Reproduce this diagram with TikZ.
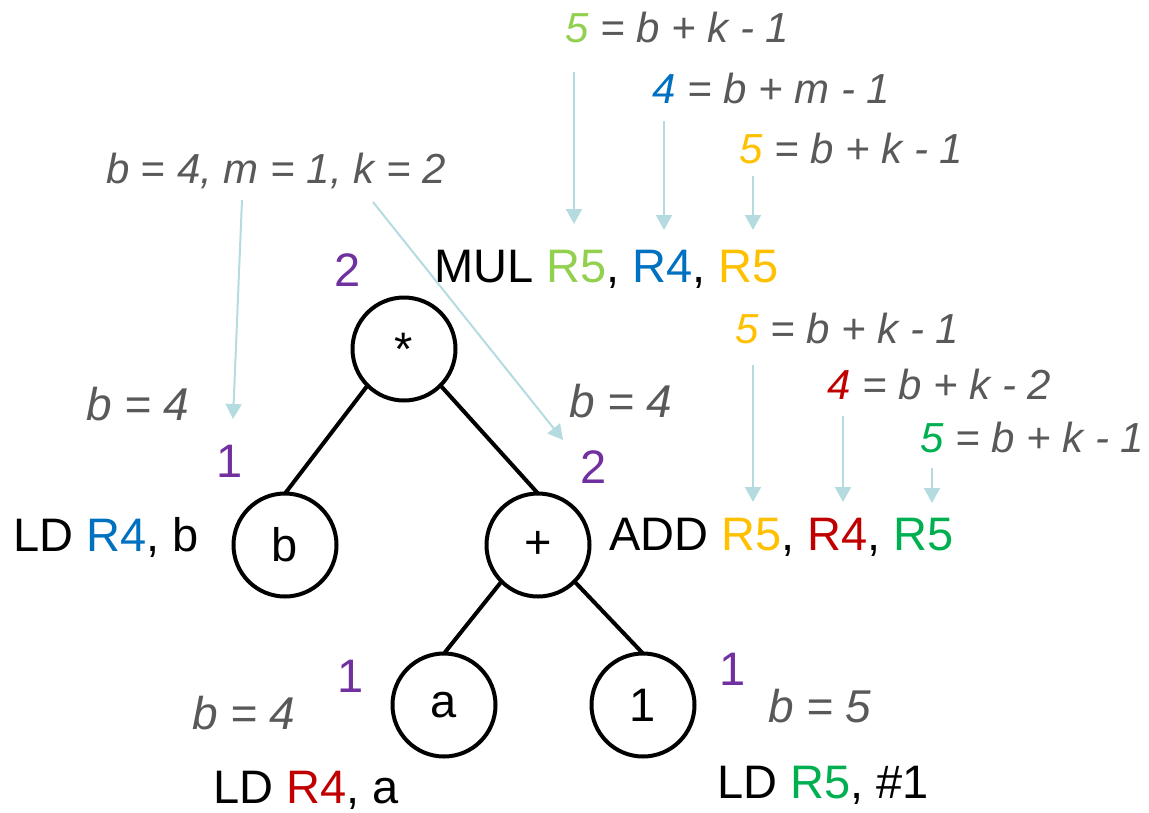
\documentclass[tikz,border=0pt]{standalone}
\usepackage{fontspec}
\setmainfont{Liberation Sans}
\usetikzlibrary{arrows.meta}
\definecolor{textgray}{RGB}{89,89,89}
\definecolor{hintblue}{RGB}{180,220,224}
\definecolor{needpurple}{RGB}{112,48,160}
\definecolor{regltgreen}{RGB}{146,208,80}
\definecolor{regblue}{RGB}{0,112,192}
\definecolor{regyellow}{RGB}{255,192,0}
\definecolor{regred}{RGB}{192,0,0}
\definecolor{reggreen}{RGB}{0,176,80}
\begin{document}
\begin{tikzpicture}[x=1pt,y=-1pt,
  every node/.style={inner sep=0pt,outer sep=0pt},
  code/.style={anchor=base west,font=\fontsize{47}{56}\selectfont},
  formula/.style={anchor=base west,text=textgray,font=\fontsize{42}{50}\selectfont\itshape},
  basevalue/.style={formula,font=\fontsize{46}{55}\selectfont\itshape},
  need/.style={anchor=base west,text=needpurple,font=\fontsize{47}{56}\selectfont},
  opnode/.style={circle,draw,line width=4pt,minimum size=103pt,font=\fontsize{47}{56}\selectfont},
  hint/.style={draw=hintblue,line width=2pt,-{Triangle[width=16pt,length=15pt]}},
  edge/.style={line width=4pt}]
\useasboundingbox (0,0) rectangle (1149,812);
% Expression tree
\node[opnode] (mul) at (404,349) {*};
\node[opnode] (leafb) at (285,545) {b};
\node[opnode] (add) at (538,545) {+};
\node[opnode] (leafa) at (444,705) {a};
\node[opnode] (leafone) at (643,705) {1};
\draw[edge] (mul.south west) -- (leafb.north);
\draw[edge] (mul.south east) -- (add.north);
\draw[edge] (add.south west) -- (leafa.north);
\draw[edge] (add.south east) -- (leafone.north);
% Register need of each node
\node[need] (needmul) at (334,286) {2};
\node[need] (needb) at (216,477) {1};
\node[need] (needadd) at (580,483) {2};
\node[need] (needa) at (337,692) {1};
\node[need] (needone) at (719,685) {1};
% Base register values
\node[formula] (rootargs) at (106,183) {b = 4, m = 1, k = 2};
\node[basevalue] (baseb) at (86,420) {b = 4};
\node[basevalue] (baseadd) at (569,417) {b = 4};
\node[basevalue] (basea) at (192,729) {b = 4};
\node[basevalue] (baseone) at (768,722) {b = 5};
% Generated code
\node[code] (codemul) at (434,282) {MUL \textcolor{regltgreen}{R5}, \textcolor{regblue}{R4}, \textcolor{regyellow}{R5}};
\node[code] (codeadd) at (609,550) {ADD \textcolor{regyellow}{R5}, \textcolor{regred}{R4}, \textcolor{reggreen}{R5}};
\node[code] (codeb) at (13,551) {LD \textcolor{regblue}{R4}, b};
\node[code] (codea) at (213,803) {LD \textcolor{regred}{R4}, a};
\node[code] (codeone) at (717,798) {LD \textcolor{reggreen}{R5}, \#1};
% Register formulas
\node[formula] (mulres) at (565,42) {\textcolor{regltgreen}{5} = b + k - 1};
\node[formula] (mulleft) at (652,103) {\textcolor{regblue}{4} = b + m - 1};
\node[formula] (mulright) at (739,163) {\textcolor{regyellow}{5} = b + k - 1};
\node[formula] (addres) at (735,343) {\textcolor{regyellow}{5} = b + k - 1};
\node[formula] (addleft) at (827,399) {\textcolor{regred}{4} = b + k - 2};
\node[formula] (addright) at (920,452) {\textcolor{reggreen}{5} = b + k - 1};
% Arrow ends
\coordinate (mulres1) at (574,72);   \coordinate (mulres2) at (574,224);
\coordinate (mulleft1) at (664,121); \coordinate (mulleft2) at (664,230);
\coordinate (mulright1) at (753,176); \coordinate (mulright2) at (753,230);
\coordinate (root1) at (242,200);    \coordinate (root2) at (233,419);
\coordinate (root3) at (373,202);    \coordinate (root4) at (563,440);
\coordinate (addres1) at (753,365);  \coordinate (addres2) at (753,502);
\coordinate (addleft1) at (843,416); \coordinate (addleft2) at (843,502);
\coordinate (addright1) at (932,468); \coordinate (addright2) at (932,503);
\draw[hint] (mulres1) -- (mulres2);
\draw[hint] (mulleft1) -- (mulleft2);
\draw[hint] (mulright1) -- (mulright2);
\draw[hint] (root1) -- (root2);
\draw[hint] (root3) -- (root4);
\draw[hint] (addres1) -- (addres2);
\draw[hint] (addleft1) -- (addleft2);
\draw[hint] (addright1) -- (addright2);
\end{tikzpicture}
\end{document}
